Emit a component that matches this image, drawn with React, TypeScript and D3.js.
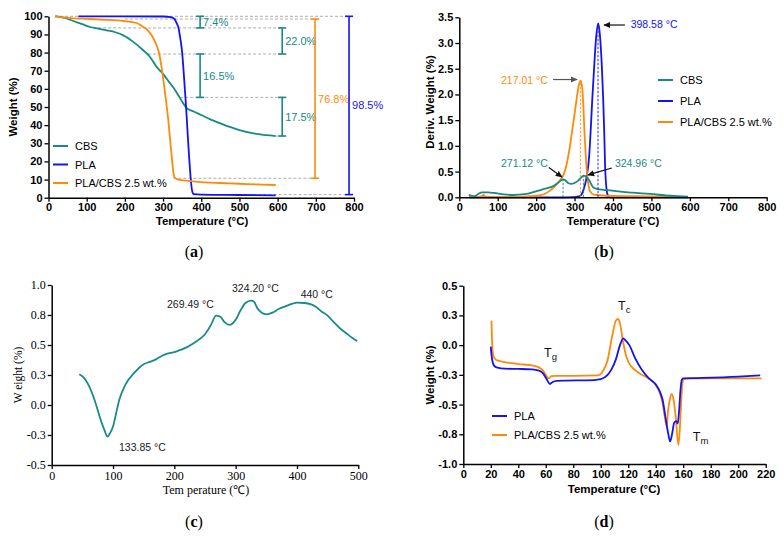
import React, { useEffect, useRef } from 'react';
import * as d3 from 'd3';

const TEAL = '#178a84';
const BLUE = '#1414f0';
const ORANGE = '#ff8a0a';
const SANS = '"Liberation Sans", Arial, Helvetica, sans-serif';
const SERIF = '"Liberation Serif", "Times New Roman", serif';

type Pt = [number, number];
const zip = (a: number[], b: number[]): Pt[] => a.map((v, i) => [v, b[i]]);

// ---- (a) TGA, weight % vs temperature
const tgaCbsT = [17, 21, 40, 65, 90, 109, 130, 152, 175, 196, 222, 248, 266, 283, 301, 315, 327, 345, 362, 380, 400, 425, 450, 475, 500, 550, 595];
const tgaCbsW = [100, 100, 99.2, 97.4, 95.5, 94.1, 93.2, 92.3, 91.2, 89.5, 85.9, 81.3, 77.6, 72.1, 68, 64, 60.8, 54.7, 49.4, 47.5, 45.6, 43, 41, 39, 37.3, 35, 34];
const tgaPlaT = [78, 200, 300, 320, 330, 336, 340, 345, 350, 353, 356, 359, 362, 365, 370, 374, 377, 380, 400, 500, 595];
const tgaPlaW = [100, 100, 99.9, 99.5, 98.5, 96, 94, 88, 80, 72, 63, 54, 44, 33, 17, 7, 3, 2, 1.7, 1.5, 1.3];
const tgaMixT = [17, 40, 65, 100, 150, 196, 231, 248, 260, 270, 280, 288, 296, 302, 307.6, 312, 318, 323, 327, 331, 340, 360, 400, 450, 500, 550, 595];
const tgaMixW = [100, 99.4, 98.9, 98.6, 98.1, 97.4, 96.3, 94.1, 92.3, 89.5, 85.5, 81, 72.1, 63, 53.8, 46, 33, 22, 14, 11, 10, 9.4, 8.6, 8.1, 7.7, 7.3, 7.0];
const tgaXTicks = [0, 100, 200, 300, 400, 500, 600, 700, 800];
const tgaYTicks = [0, 10, 20, 30, 40, 50, 60, 70, 80, 90, 100];
// guide lines: [fromT, toT, weight]
const tgaGuides: [number, number, number][] = [
  [17, 787, 100], [200, 698, 98.5], [130, 612, 93.6], [261, 612, 79.2],
  [345, 612, 55.3], [595, 612, 34], [327, 698, 10.7], [380, 787, 1.7],
];
// brackets: [T, top, bottom, label, colour]
const tgaBrackets: [number, number, number, string, string][] = [
  [397, 100, 93.6, '7.4%', TEAL], [612, 93.6, 79.2, '22.0%', TEAL],
  [397, 79.2, 55.3, '16.5%', TEAL], [612, 55.3, 34, '17.5%', TEAL],
  [698, 98.5, 10.7, '76.8%', ORANGE], [787, 100, 1.7, '98.5%', BLUE],
];

// ---- (b) DTG
const dtgCbsT = [25, 32, 40, 50, 60, 75, 90, 115, 140, 170, 201, 215, 227, 245, 258, 265, 270, 276, 283, 292, 300, 310, 318, 324, 330, 338, 349, 360, 375, 392, 420, 450, 496, 550, 595];
const dtgCbsV = [0.05, 0.03, 0.02, 0.07, 0.095, 0.095, 0.085, 0.058, 0.045, 0.06, 0.12, 0.15, 0.175, 0.22, 0.29, 0.33, 0.35, 0.33, 0.28, 0.26, 0.28, 0.33, 0.39, 0.42, 0.4, 0.33, 0.19, 0.16, 0.145, 0.135, 0.11, 0.09, 0.065, 0.03, 0.013];
const dtgPlaT = [25, 250, 300, 315, 323, 331, 338, 342, 346, 351, 356, 361.5, 366, 371, 374.5, 377, 379.5, 383.5, 387, 392, 595];
const dtgPlaV = [0, 0, 0.005, 0.03, 0.14, 0.38, 0.8, 1.31, 1.9, 2.54, 3.1, 3.38, 3.15, 2.54, 1.9, 1.31, 0.6, 0.14, 0.03, 0, 0];
const dtgMixT = [25, 30, 45, 58, 63, 68, 100, 150, 200, 220, 236, 248, 260, 270, 278, 287, 294, 300, 306, 311, 316, 320, 323, 325.5, 328, 331, 335, 340, 350, 380, 450, 595];
const dtgMixV = [0.04, 0.02, 0.01, 0.02, 0.045, 0.015, 0.01, 0.01, 0.03, 0.06, 0.13, 0.21, 0.31, 0.42, 0.6, 0.95, 1.31, 1.62, 1.95, 2.18, 2.27, 2.12, 1.75, 1.31, 0.95, 0.6, 0.3, 0.12, 0.05, 0.03, 0.02, 0.01];
const dtgXTicks = [0, 100, 200, 300, 400, 500, 600, 700, 800];
const dtgYTicks = [0, 0.5, 1, 1.5, 2, 2.5, 3, 3.5];
// peak drop lines: [T, peak value, colour]
const dtgDrops: [number, number, string][] = [[270, 0.35, TEAL], [323, 0.42, TEAL], [315, 2.27, ORANGE], [361, 3.38, BLUE]];
// labels: [T, v, text, colour]
const dtgLabels: [number, number, string, string][] = [
  [446, 3.29, '398.58 °C', BLUE], [108.5, 2.2, '217.01 °C', ORANGE],
  [108.5, 0.59, '271.12 °C', TEAL], [405, 0.59, '324.96 °C', TEAL],
];
// arrows: [T1, v1, T2, v2, colour]
const dtgArrows: [number, number, number, number, string][] = [
  [431, 3.35, 377, 3.35, '#111'], [244, 2.29, 306, 2.29, '#555'],
  [233, 0.58, 267, 0.395, '#111'], [397, 0.57, 335, 0.435, '#111'],
];

// ---- (c) CBS curve
const cT = [45, 52, 60, 70, 80, 86, 91, 95, 100, 105, 110, 120, 135, 150, 160, 170, 180, 190, 200, 210, 220, 230, 240, 250, 260, 268, 275, 282, 290, 300, 308, 316, 325, 330, 335, 342, 350, 360, 370, 385, 400, 412, 422, 430, 440, 450, 460, 470, 480, 490, 498];
const cV = [0.256, 0.23, 0.167, 0.04, -0.125, -0.21, -0.264, -0.236, -0.18, -0.07, 0.04, 0.167, 0.27, 0.34, 0.36, 0.38, 0.41, 0.43, 0.44, 0.46, 0.48, 0.51, 0.545, 0.59, 0.67, 0.745, 0.735, 0.69, 0.667, 0.71, 0.79, 0.85, 0.87, 0.86, 0.81, 0.77, 0.756, 0.77, 0.8, 0.83, 0.853, 0.85, 0.84, 0.82, 0.78, 0.745, 0.69, 0.64, 0.6, 0.56, 0.533];
const cXTicks = [0, 100, 200, 300, 400, 500];
const cYTicks = [1, 0.75, 0.5, 0.25, 0, -0.25, -0.5];
const cYLabels = ['1.0', '0.8', '0.5', '0.3', '0.0', '-0.3', '-0.5'];
const cLabels: [number, number, string][] = [
  [188, 0.808, '269.49 °C'], [294, 0.942, '324.20 °C'], [406, 0.892, '440 °C'], [109.7, -0.383, '133.85 °C'],
];

// ---- (d) DSC
const dPlaT = [20, 20.5, 21.5, 23, 25, 30, 40, 50, 55, 58, 61, 63, 65, 68, 75, 90, 100, 105, 108, 111, 114, 116.4, 118, 120.8, 125, 130, 135, 140, 143, 145, 147, 149, 150.5, 152, 153.5, 155, 156, 157, 158, 159, 160, 170, 200, 216];
const dPlaV = [-0.013, -0.08, -0.15, -0.18, -0.19, -0.198, -0.2, -0.204, -0.215, -0.237, -0.293, -0.327, -0.31, -0.3, -0.298, -0.296, -0.285, -0.25, -0.2, -0.12, 0, 0.057, 0.04, 0, -0.11, -0.21, -0.28, -0.33, -0.39, -0.46, -0.6, -0.74, -0.81, -0.74, -0.65, -0.64, -0.66, -0.55, -0.38, -0.29, -0.28, -0.277, -0.265, -0.254];
const dMixT = [20.5, 21, 22, 24, 30, 40, 50, 55, 58, 60, 62, 64, 68, 80, 98, 102, 105, 108, 111, 112.5, 114, 116, 118, 120, 125, 130, 135, 140, 143, 145, 146.5, 148, 149, 150, 151.5, 153, 154.5, 156.5, 158, 159, 160, 162, 180, 200, 217];
const dMixV = [0.206, 0.015, -0.097, -0.125, -0.142, -0.159, -0.17, -0.187, -0.215, -0.25, -0.28, -0.26, -0.258, -0.258, -0.254, -0.21, -0.125, 0.057, 0.206, 0.22, 0.183, 0.043, -0.07, -0.14, -0.21, -0.25, -0.28, -0.335, -0.405, -0.49, -0.6, -0.68, -0.546, -0.476, -0.41, -0.46, -0.6, -0.84, -0.6, -0.377, -0.293, -0.282, -0.28, -0.28, -0.28];
const dXTicks = d3.range(0, 221, 20);
const dYTicks = [0.5, 0.25, 0, -0.25, -0.5, -0.75, -1];
const dYLabels = ['0.5', '0.3', '0.0', '-0.3', '-0.5', '-0.8', '-1.0'];
const dLabels: [number, number, string][] = [[58.7, -0.1, 'g'], [112.6, 0.296, 'c'], [167, -0.806, 'm']];

type Sel = d3.Selection<SVGGElement, unknown, null, undefined>;
type Lin = d3.ScaleLinear<number, number>;

function axes(g: Sel, x: Lin, y: Lin, xTicks: number[], yTicks: number[], yFmt: (d: number) => string, serif = false) {
  const xa = g.append('g').attr('transform', `translate(0,${y.range()[0]})`)
    .call(d3.axisBottom(x).tickValues(xTicks).tickSize(4).tickSizeOuter(0).tickPadding(2).tickFormat(d => String(d)));
  const ya = g.append('g').attr('transform', `translate(${x.range()[0]},0)`)
    .call(d3.axisLeft(y).tickValues(yTicks).tickSize(4).tickSizeOuter(0).tickPadding(2).tickFormat(d => yFmt(+d)));
  [xa, ya].forEach(a => {
    a.select('.domain').attr('stroke', '#000').attr('stroke-width', 1.5);
    a.selectAll('.tick line').attr('stroke', '#000').attr('stroke-width', 1.3);
    a.selectAll('.tick text').attr('fill', '#000')
      .style('font-family', serif ? SERIF : SANS)
      .style('font-size', serif ? '12px' : '11px')
      .style('font-weight', serif ? 'normal' : 'bold');
  });
}

function curve(g: Sel, x: Lin, y: Lin, pts: Pt[], color: string, w = 1.8) {
  const line = d3.line<Pt>().x(d => x(d[0])).y(d => y(d[1])).curve(d3.curveMonotoneX);
  g.append('path').attr('d', line(pts)).attr('fill', 'none').attr('stroke', color).attr('stroke-width', w);
}

function legend(g: Sel, x0: number, y0: number, step: number, items: [string, string][]) {
  items.forEach(([name, color], i) => {
    const yy = y0 + i * step;
    g.append('line').attr('x1', x0).attr('x2', x0 + 15).attr('y1', yy).attr('y2', yy).attr('stroke', color).attr('stroke-width', 2);
    g.append('text').attr('x', x0 + 22).attr('y', yy + 4).text(name)
      .style('font-family', SANS).style('font-size', '11px').attr('fill', '#000');
  });
}

function title(g: Sel, x: number, y: number, text: string, rotate = false, font = SANS, bold = true, size = 11.5) {
  g.append('text').attr('transform', `translate(${x},${y})${rotate ? ' rotate(-90)' : ''}`)
    .attr('text-anchor', 'middle').text(text)
    .style('font-family', font).style('font-size', `${size}px`).style('font-weight', bold ? 'bold' : 'normal');
}

function panelTag(g: Sel, x: number, y: number, letter: string) {
  const t = g.append('text').attr('x', x).attr('y', y).attr('text-anchor', 'middle')
    .style('font-family', SERIF).style('font-size', '16px');
  t.append('tspan').text('(');
  t.append('tspan').text(letter).style('font-weight', 'bold');
  t.append('tspan').text(')');
}

export default function App() {
  const ref = useRef<SVGSVGElement>(null);

  useEffect(() => {
    if (!ref.current) return;
    const svg = d3.select(ref.current);
    svg.selectAll('*').remove();
    const root = svg.append('g') as unknown as Sel;

    const defs = svg.append('defs');
    ['#111', '#555'].forEach((c, i) => {
      defs.append('marker').attr('id', `ah${i}`).attr('viewBox', '0 0 8 8').attr('refX', 7).attr('refY', 4)
        .attr('markerWidth', 7).attr('markerHeight', 7).attr('markerUnits', 'userSpaceOnUse').attr('orient', 'auto')
        .append('path').attr('d', 'M0,0.5 L8,4 L0,7.5 Z').attr('fill', c);
    });

    // ---------- (a)
    {
      const x = d3.scaleLinear().domain([0, 800]).range([48.5, 354]);
      const y = d3.scaleLinear().domain([0, 100]).range([197.7, 16.3]);
      const g = root.append('g') as unknown as Sel;
      tgaGuides.forEach(([t0, t1, w]) => {
        g.append('line').attr('x1', x(t0)).attr('x2', x(t1)).attr('y1', y(w)).attr('y2', y(w))
          .attr('stroke', '#999').attr('stroke-width', 0.8).attr('stroke-dasharray', '3,2');
      });
      curve(g, x, y, zip(tgaCbsT, tgaCbsW), TEAL);
      curve(g, x, y, zip(tgaPlaT, tgaPlaW), BLUE);
      curve(g, x, y, zip(tgaMixT, tgaMixW), ORANGE);
      tgaBrackets.forEach(([t, top, bot, label, color]) => {
        const xx = x(t);
        g.append('line').attr('x1', xx).attr('x2', xx).attr('y1', y(top)).attr('y2', y(bot)).attr('stroke', color).attr('stroke-width', 1.6);
        [top, bot].forEach(v => g.append('line').attr('x1', xx - 4).attr('x2', xx + 4).attr('y1', y(v)).attr('y2', y(v)).attr('stroke', color).attr('stroke-width', 1.6));
        g.append('text').attr('x', xx + 3).attr('y', (y(top) + y(bot)) / 2 + 4).text(label)
          .style('font-family', SANS).style('font-size', '11px').attr('fill', color);
      });
      axes(g, x, y, tgaXTicks, tgaYTicks, d => String(d));
      legend(g, 53, 146, 18.5, [['CBS', TEAL], ['PLA', BLUE], ['PLA/CBS 2.5 wt.%', ORANGE]]);
      title(g, 202, 225, 'Temperature (°C)');
      title(g, 17, 107, 'Weight (%)', true);
      panelTag(g, 194, 257, 'a');
    }

    // ---------- (b)
    {
      const x = d3.scaleLinear().domain([0, 800]).range([459.3, 766.7]);
      const y = d3.scaleLinear().domain([0, 3.5]).range([197.3, 17.3]);
      const g = root.append('g') as unknown as Sel;
      curve(g, x, y, zip(dtgPlaT, dtgPlaV), BLUE);
      curve(g, x, y, zip(dtgMixT, dtgMixV), ORANGE);
      curve(g, x, y, zip(dtgCbsT, dtgCbsV), TEAL);
      dtgDrops.forEach(([t, v, color]) => {
        g.append('line').attr('x1', x(t)).attr('x2', x(t)).attr('y1', y(0)).attr('y2', y(v))
          .attr('stroke', color).attr('stroke-width', 0.9).attr('stroke-dasharray', '2.5,1.5');
      });
      dtgArrows.forEach(([t1, v1, t2, v2, color]) => {
        g.append('line').attr('x1', x(t1)).attr('y1', y(v1)).attr('x2', x(t2)).attr('y2', y(v2))
          .attr('stroke', color).attr('stroke-width', 1.2).attr('marker-end', `url(#ah${color === '#555' ? 1 : 0})`);
      });
      dtgLabels.forEach(([t, v, text, color]) => {
        g.append('text').attr('x', x(t)).attr('y', y(v)).text(text)
          .style('font-family', SANS).style('font-size', '10.5px').attr('fill', color);
      });
      axes(g, x, y, dtgXTicks, dtgYTicks, d3.format('.1f'));
      legend(g, 658, 80, 21, [['CBS', TEAL], ['PLA', BLUE], ['PLA/CBS 2.5 wt.%', ORANGE]]);
      title(g, 613, 225, 'Temperature (°C)');
      title(g, 434, 102, 'Deriv. Weight (%)', true);
      panelTag(g, 604, 257, 'b');
    }

    // ---------- (c)
    {
      const x = d3.scaleLinear().domain([0, 500]).range([51.7, 358.3]);
      const y = d3.scaleLinear().domain([-0.5, 1]).range([465, 285]);
      const g = root.append('g') as unknown as Sel;
      curve(g, x, y, zip(cT, cV), '#188a8a', 1.8);
      cLabels.forEach(([t, v, text]) => {
        g.append('text').attr('x', x(t)).attr('y', y(v)).text(text)
          .style('font-family', SANS).style('font-size', '10.5px').attr('fill', '#222');
      });
      axes(g, x, y, cXTicks, cYTicks, d => cYLabels[cYTicks.indexOf(d)], true);
      title(g, 206, 494, 'Tem perature (℃)', false, SERIF, false, 12);
      title(g, 22, 375, 'W eight (%)', true, SERIF, false, 11.5);
      panelTag(g, 194, 527, 'c');
    }

    // ---------- (d)
    {
      const x = d3.scaleLinear().domain([0, 220]).range([463.3, 765.7]);
      const y = d3.scaleLinear().domain([-1, 0.5]).range([464, 285.7]);
      const g = root.append('g') as unknown as Sel;
      curve(g, x, y, zip(dMixT, dMixV), ORANGE);
      curve(g, x, y, zip(dPlaT, dPlaV), BLUE);
      dLabels.forEach(([t, v, sub]) => {
        const tx = g.append('text').attr('x', x(t)).attr('y', y(v))
          .style('font-family', SANS).style('font-size', '12.5px').attr('fill', '#111');
        tx.append('tspan').text('T');
        tx.append('tspan').text(sub).attr('dy', 3).style('font-size', '9.5px');
      });
      axes(g, x, y, dXTicks, dYTicks, d => dYLabels[dYTicks.indexOf(d)]);
      legend(g, 492, 416, 19, [['PLA', BLUE], ['PLA/CBS 2.5 wt.%', ORANGE]]);
      title(g, 614, 493, 'Temperature (°C)');
      title(g, 434, 375, 'Weight (%)', true);
      panelTag(g, 604, 527, 'd');
    }
  }, []);

  return (
    <svg ref={ref} width={784} height={538}
      style={{ position: 'absolute', left: 0, top: 0, background: '#fff' }} />
  );
}
